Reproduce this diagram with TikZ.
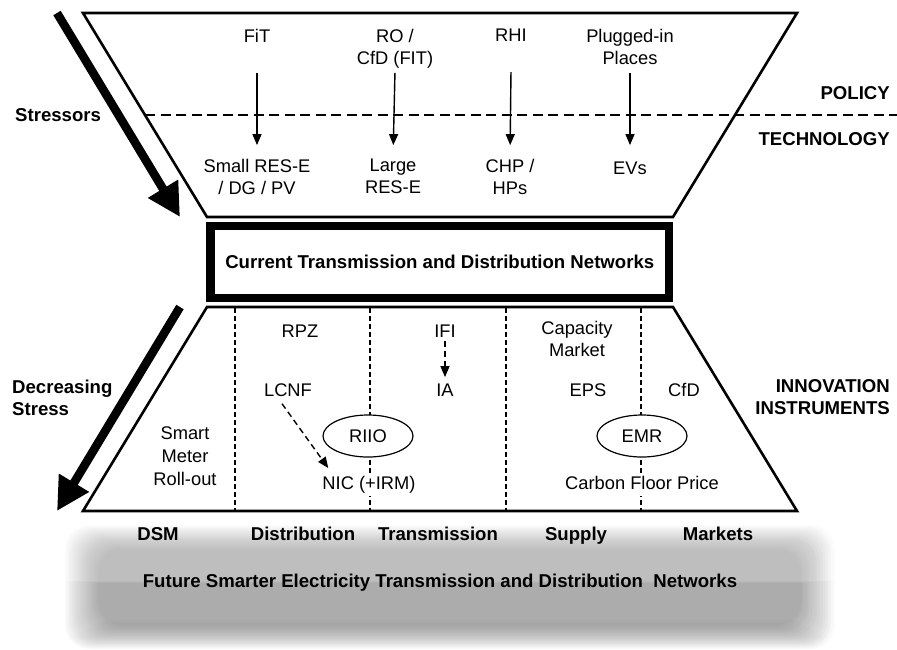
\documentclass[tikz,border=0pt]{standalone}
\usepackage{fontspec}
\setmainfont{Liberation Sans}
\usetikzlibrary{arrows.meta,shapes.geometric,fadings}
\tikzfading[name=blobfade, top color=transparent!50, bottom color=transparent!5]
\begin{document}
\begin{tikzpicture}[x=1pt,y=-1pt,
  f/.style={font=\fontsize{18.3}{22}\selectfont},
  fb/.style={font=\fontsize{18.6}{22}\selectfont\bfseries},
  lbl/.style={f, inner sep=0pt, align=center, execute at begin node=\strut, execute at end node=\strut},
  lblb/.style={lbl, fb},
  trap/.style={line width=2.6pt, line join=miter},
  arr/.style={line width=1.4pt, -{Triangle[length=11pt,width=9pt]}},
  darr/.style={arr, dash pattern=on 6pt off 4pt},
  vdash/.style={line width=1.1pt, dash pattern=on 5pt off 3pt},
  pdash/.style={line width=2.3pt, dash pattern=on 10pt off 5.5pt},
  bigarr/.style={line width=8.6pt, -{Triangle[length=33pt,width=33pt]}},
  oval/.style={ellipse, draw, line width=1.2pt, fill=white, f, inner sep=0pt, minimum width=90pt, minimum height=42pt}
]
\useasboundingbox (0,0) rectangle (897,649);

% blurred background blob
\foreach \i in {0,...,24}
  \fill[black, fill opacity=0.02, path fading=blobfade, rounded corners=24pt]
    ({65+\i*1.4},{525+\i*1.0}) rectangle ({835-\i*1.4},{649-\i*1.0});

% top trapezoid and policy line
\draw[trap] (83,13) -- (797,13) -- (673,217) -- (207,217) -- cycle;
\coordinate (pl1) at (145,115);
\coordinate (pl2) at (897,115);
\draw[pdash] (pl1) -- (pl2);

% policy instruments
\node[lbl, anchor=north] (fit) at (257,28.6) {FiT\\};
\node[lbl, anchor=north] (ro)  at (395,28.6) {RO /\\CfD (FIT)};
\node[lbl, anchor=north] (rhi) at (511,28.6) {RHI\\};
\node[lbl, anchor=north] (pip) at (630,28.6) {Plugged-in\\Places};
% technologies
\node[lbl, anchor=north] (sres) at (257,158.6) {Small RES-E\\/ DG / PV};
\node[lbl, anchor=north] (lres) at (393,158.6) {Large\\RES-E};
\node[lbl, anchor=north] (chp)  at (510,158.6) {CHP /\\HPs};
\node[lbl, anchor=north] (evs)  at (630,158.6) {EVs};
\foreach \a/\b in {fit/sres, ro/lres, rhi/chp, pip/evs}
  \draw[arr, shorten <=2pt, shorten >=13.5pt] (\a.south) -- (\b.north);

\node[fb, inner sep=0pt, anchor=base east] (pol) at (890,99) {POLICY};
\node[fb, inner sep=0pt, anchor=base east] (tec) at (890,145.5) {TECHNOLOGY};

% stressors
\node[fb, inner sep=0pt, anchor=base west] (str) at (15,121) {Stressors};
\coordinate (s1) at (57,13);
\coordinate (s2) at (180,217);
\draw[bigarr] (s1) -- (s2);

% current networks
\node[draw, line width=8.5pt, minimum width=458.5pt, minimum height=72pt, inner sep=0pt, fb]
  (cur) at (439.75,262) {Current Transmission and Distribution Networks};

% bottom trapezoid
\foreach \x in {235,370,506,641}
  \draw[vdash] (\x,308) -- (\x,510);
\draw[trap] (207,307) -- (673,307) -- (797,511) -- (83,511) -- cycle;

\node[lbl, anchor=north] (rpz) at (300,321.6) {RPZ};
\node[lbl, anchor=north] (ifi) at (445,321.6) {IFI};
\node[lbl, anchor=north] (ia)  at (445,380.6) {IA};
\node[lbl, anchor=north] (lcnf) at (288,381.3) {LCNF};
\node[lbl, anchor=north, font=\fontsize{18.3}{23}\selectfont] (smr) at (185,426.9) {Smart\\Meter\\Roll-out};
\node[oval] (riio) at (368,436) {RIIO};
\node[lbl, anchor=north, fill=white] (nic) at (369,473.6) {NIC (+IRM)};
\node[lbl, anchor=north] (cap) at (577,321.3) {Capacity\\Market};
\node[lbl, anchor=north] (eps) at (588,381.3) {EPS};
\node[lbl, anchor=north] (cfd) at (684,381.3) {CfD};
\node[oval] (emr) at (642,436) {EMR};
\node[lbl, anchor=north, fill=white] (cfp) at (642,473.6) {Carbon Floor Price};

\draw[darr, shorten <=-3pt, shorten >=3.5pt] (ifi.south) -- (ia.north);
\draw[darr] ([xshift=-6pt]lcnf.south) -- ([xshift=6pt,yshift=5.5pt]nic.north west);

% decreasing stress
\node[lblb, anchor=north west, align=left] (dec) at (12,380.3) {Decreasing\\Stress};
\coordinate (d1) at (180,307);
\coordinate (d2) at (57,511);
\draw[bigarr] (d1) -- (d2);
\node[lblb, anchor=north east, align=right] (inn) at (890,379) {INNOVATION\\INSTRUMENTS};

% areas
\node[fb, inner sep=0pt, anchor=base] (dsm) at (158,540) {DSM};
\node[fb, inner sep=0pt, anchor=base] (dis) at (303,540) {Distribution};
\node[fb, inner sep=0pt, anchor=base] (tra) at (438,540) {Transmission};
\node[fb, inner sep=0pt, anchor=base] (sup) at (576,540) {Supply};
\node[fb, inner sep=0pt, anchor=base] (mar) at (718,540) {Markets};

\node[fb, inner sep=0pt, anchor=base] (fut) at (440,587)
  {Future Smarter Electricity Transmission and Distribution~~Networks};
\end{tikzpicture}
\end{document}
